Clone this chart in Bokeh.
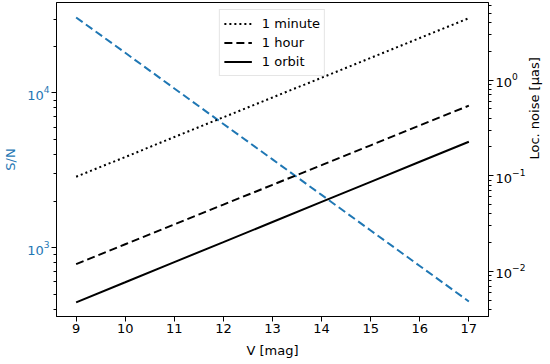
import math
from bokeh.plotting import figure
from bokeh.models import Range1d, LogScale, LogAxis, FixedTicker, LogTicker
from bokeh.embed import file_html
from bokeh.resources import INLINE

# ---- data ----
mag = [9, 10, 11, 12, 13, 14, 15, 16, 17]
snr = [30800, 18200, 10700, 6300, 3720, 2190, 1290, 760, 448]
noise_minute = [0.0977, 0.157, 0.254, 0.409, 0.659, 1.06, 1.71, 2.76, 4.45]
noise_hour = [0.0119, 0.0192, 0.0310, 0.0499, 0.0804, 0.129, 0.208, 0.336, 0.541]
noise_orbit = [0.00474, 0.00769, 0.0125, 0.0202, 0.0328, 0.0532, 0.0863, 0.140, 0.227]
x_ticks = [9, 10, 11, 12, 13, 14, 15, 16, 17]

BLUE = "#1f77b4"
FONT = "DejaVu Sans"
FS = "13px"

p = figure(frame_width=432, frame_height=314, output_backend="svg", toolbar_location=None,
           x_range=Range1d(8.6, 17.4), y_range=Range1d(358, 38500),
           y_axis_type="log", x_axis_label="V [mag]", y_axis_label="S/N",
           min_border_left=47, min_border_right=56, min_border_top=2, min_border_bottom=36)
p.extra_y_ranges = {"noise": Range1d(0.00337, 6.49)}
p.extra_y_scales = {"noise": LogScale()}

right = LogAxis(y_range_name="noise", axis_label="Loc. noise [μas]",
                ticker=LogTicker(num_minor_ticks=10))
p.add_layout(right, "right")

p.xgrid.visible = False
p.ygrid.visible = False
p.outline_line_color = "black"
p.outline_line_width = 1

p.xaxis.ticker = FixedTicker(ticks=x_ticks)

for ax in [p.xaxis[0], p.yaxis[0], right]:
    ax.major_label_text_font = FONT
    ax.major_label_text_font_size = FS
    ax.axis_label_text_font = FONT
    ax.axis_label_text_font_size = FS
    ax.axis_label_text_font_style = "normal"
    ax.major_tick_in = 0
    ax.major_tick_out = 5
    ax.minor_tick_in = 0
    ax.minor_tick_out = 3
    ax.major_label_standoff = 2
    ax.axis_label_standoff = 6
    ax.axis_line_color = "black"
    ax.major_tick_line_color = "black"
    ax.minor_tick_line_color = "black"
    ax.major_label_text_color = "black"
    ax.axis_label_text_color = "black"

p.xaxis.minor_tick_line_color = None
p.xaxis.axis_label_standoff = 7
p.yaxis[0].major_label_text_color = BLUE
p.yaxis[0].axis_label_text_color = BLUE
right.axis_label_orientation = math.pi / 2

p.line(mag, snr, line_color=BLUE, line_width=2, line_dash="8 4")
p.line(mag, noise_minute, y_range_name="noise", line_color="black", line_width=2,
       line_dash="2 3", legend_label="1 minute")
p.line(mag, noise_hour, y_range_name="noise", line_color="black", line_width=2,
       line_dash="8 4", legend_label="1 hour")
p.line(mag, noise_orbit, y_range_name="noise", line_color="black", line_width=2,
       legend_label="1 orbit")

lg = p.legend[0]
lg.location = "top_center"
lg.margin = 7
lg.padding = 4
lg.spacing = 0
lg.glyph_width = 28
lg.glyph_height = 19
lg.label_height = 19
lg.label_standoff = 10
lg.label_text_font = FONT
lg.label_text_font_size = FS
lg.label_text_color = "black"
lg.border_line_color = "#cccccc"
lg.background_fill_alpha = 0.8

open("out.html", "w").write(file_html(p, INLINE))
